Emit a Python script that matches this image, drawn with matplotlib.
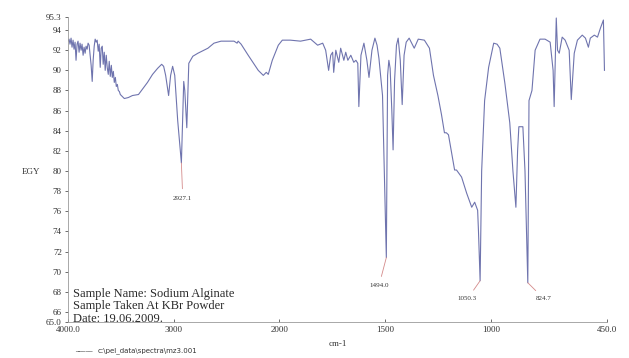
import numpy as np
import matplotlib
matplotlib.use('Agg')
import matplotlib.pyplot as plt
from matplotlib.ticker import FixedLocator, FixedFormatter

# spectrum (wavenumber cm-1, %T)
wavenumber = [
    4000, 3990, 3981, 3971, 3962, 3952, 3943, 3933, 3924, 3914, 3905, 3895,
    3886, 3876, 3867, 3857, 3848, 3838, 3829, 3819, 3810, 3800, 3790, 3781,
    3771, 3762, 3752, 3743, 3733, 3724, 3714, 3705, 3695, 3686, 3676, 3667,
    3657, 3648, 3638, 3629, 3619, 3610, 3600, 3590, 3581, 3571, 3562, 3552,
    3543, 3533, 3524, 3514, 3505,
    3467, 3429, 3390, 3333, 3248, 3200, 3152, 3114, 3095,
    3076, 3048, 3029, 3010, 2990, 2962, 2927.1, 2905, 2895, 2876, 2857, 2819,
    2771, 2676, 2619, 2552, 2429, 2400, 2390, 2362, 2295, 2200, 2152, 2124,
    2105, 2067, 2010, 1986, 1948, 1900, 1852, 1819, 1795, 1781, 1767, 1757,
    1748, 1743, 1733, 1719, 1710, 1695, 1686, 1676, 1662, 1648, 1638, 1629,
    1624, 1614, 1600, 1586, 1576, 1562, 1548, 1538, 1529, 1512, 1494.0, 1488,
    1482, 1476, 1468, 1462, 1455, 1446, 1438, 1428, 1419, 1410, 1400, 1386,
    1362, 1343, 1314, 1290, 1271, 1250, 1233, 1219, 1210, 1200, 1171, 1162,
    1138, 1114, 1090, 1076, 1062, 1058, 1050.3, 1043, 1029, 1010, 986, 970,
    957, 933, 910, 895, 881, 873, 867, 848, 838, 824.7, 819, 805,
    790, 767, 743, 719, 705, 700, 695, 690, 684, 676, 662, 648,
    629, 619, 605, 590, 567, 552, 538, 529, 510, 495, 481, 467,
    462,
]
transmittance = [
    92.9, 93.1, 92.6, 93.2, 92.3, 93.0, 92.1, 92.8, 91.0, 92.6, 92.9, 91.8,
    92.7, 92.0, 92.6, 91.5, 92.3, 91.7, 92.4, 92.1, 92.7, 92.5, 91.4, 90.5,
    88.9, 91.0, 92.4, 93.1, 92.8, 93.0, 91.9, 92.6, 90.3, 92.2, 92.4, 90.6,
    91.8, 90.0, 91.5, 90.3, 89.6, 90.9, 89.4, 90.5, 89.3, 89.9, 88.8, 89.3,
    88.4, 88.6, 88.0, 87.9, 87.6,
    87.2, 87.3, 87.5, 87.6, 88.8, 89.6, 90.2, 90.6, 90.4,
    89.5, 87.5, 89.5, 90.4, 89.5, 85.0, 80.8, 88.9, 88.0, 84.3, 90.7, 91.4,
    91.7, 92.2, 92.7, 92.9, 92.9, 92.7, 92.9, 92.6, 91.5, 90.0, 89.5, 89.8,
    89.6, 91.0, 92.5, 93.0, 93.0, 92.9, 93.1, 92.5, 92.7, 92.0, 90.0, 91.5,
    91.8, 89.8, 92.0, 90.8, 92.2, 91.0, 91.8, 91.0, 91.5, 90.8, 91.0, 90.7,
    86.4, 91.5, 92.7, 91.0, 89.3, 92.0, 93.2, 92.5, 91.2, 87.5, 71.4, 89.5,
    91.0, 90.2, 86.0, 82.1, 89.0, 92.5, 93.2, 91.0, 86.6, 91.5, 92.8, 93.2,
    92.2, 93.1, 93.0, 92.2, 89.5, 87.5, 85.6, 83.8, 83.8, 83.6, 80.1, 80.1,
    79.4, 77.8, 76.4, 76.9, 76.1, 74.0, 69.1, 80.0, 87.0, 90.3, 92.7, 92.6,
    92.2, 88.7, 84.8, 80.0, 76.4, 82.0, 84.4, 84.4, 80.0, 68.9, 87.0, 88.0,
    92.0, 93.1, 93.1, 92.8, 90.0, 86.4, 91.0, 95.2, 92.0, 91.7, 93.3, 93.0,
    92.0, 87.1, 91.7, 93.0, 93.5, 93.2, 92.3, 93.2, 93.5, 93.3, 94.2, 95.0,
    90.0,
]

# labelled peaks: position, depth, label position
peak_wn = [2927.1, 1494.0, 1050.3, 824.7]
peak_t = [80.8, 71.4, 69.1, 68.9]
label_wn = [2914, 1529, 1110, 748]
label_t = [77.3, 68.6, 67.3, 67.3]

xticks = [4000, 3000, 2000, 1500, 1000, 450]
xtick_labels = ['4000.0', '3000', '2000', '1500', '1000', '450.0']
yticks = [65, 66, 68, 70, 72, 74, 76, 78, 80, 82, 84, 86, 88, 90, 92, 94, 95.3]
ytick_labels = ['65.0', '66', '68', '70', '72', '74', '76', '78', '80', '82',
                '84', '86', '88', '90', '92', '94', '95.3']

sample_info = ['Sample Name: Sodium Alginate',
               'Sample Taken At KBr Powder',
               'Date: 19.06.2009.']


# the x axis is compressed 2x above 2000 cm-1
def fwd(w):
    w = np.asarray(w, dtype=float)
    return np.where(w > 2000, 2000 + (w - 2000) / 2, w)


def inv(u):
    u = np.asarray(u, dtype=float)
    return np.where(u > 2000, 2000 + (u - 2000) * 2, u)


plt.rcParams['font.family'] = ['Liberation Serif', 'DejaVu Serif']

fig = plt.figure(figsize=(6.29, 3.58), dpi=100)
ax = fig.add_axes([68 / 629, 1 - 322 / 358, 539 / 629, 305 / 358])
ax.set_xscale('function', functions=(fwd, inv))

ax.plot(wavenumber, transmittance, color='#6f74ae', lw=0.8)

for pw, pt, lw_, lt, in zip(peak_wn, peak_t, label_wn, label_t):
    ax.annotate(f'{pw:.1f}', xy=(pw, pt), xytext=(lw_, lt),
                fontsize=5, ha='center', va='center', color='#333333',
                arrowprops=dict(arrowstyle='-', color='#d48a8a', lw=0.6,
                                shrinkA=3, shrinkB=0))

ax.set_xlim(4000, 450)
ax.set_ylim(65, 95.3)

ax.xaxis.set_major_locator(FixedLocator(xticks))
ax.xaxis.set_major_formatter(FixedFormatter(xtick_labels))
ax.xaxis.set_minor_locator(FixedLocator([]))
ax.yaxis.set_major_locator(FixedLocator(yticks))
ax.yaxis.set_major_formatter(FixedFormatter(ytick_labels))

ax.tick_params(axis='x', direction='in', length=2, width=0.5, labelsize=6.5,
               pad=3, colors='#333333')
ax.tick_params(axis='y', direction='out', length=2.5, width=0.5, labelsize=6.5,
               pad=2, colors='#333333')

for side in ['top', 'right']:
    ax.spines[side].set_visible(False)
for side in ['left', 'bottom']:
    ax.spines[side].set_color('#9a9a9a')
    ax.spines[side].set_linewidth(0.6)

ax.set_xlabel('cm-1', fontsize=6.5, labelpad=4, color='#333333')
fig.text(22 / 629, 1 - 172 / 358, 'EGY', fontsize=6.5, ha='left', va='center',
         color='#333333')

for i, line in enumerate(sample_info):
    ax.text(0.01, 0.093 - i * 0.041, line, transform=ax.transAxes,
            fontsize=9, ha='left', va='center', color='#2a2a2a')

fig.text(75 / 629, 1 - 352 / 358, '_____', fontsize=5, ha='left',
         va='bottom', family='DejaVu Sans', color='#444444')
fig.text(98 / 629, 1 - 351 / 358, 'c:\\pel_data\\spectra\\mz3.001',
         fontsize=5, ha='left', va='center', family='DejaVu Sans',
         color='#333333')

fig.savefig('out.png', dpi=100)
